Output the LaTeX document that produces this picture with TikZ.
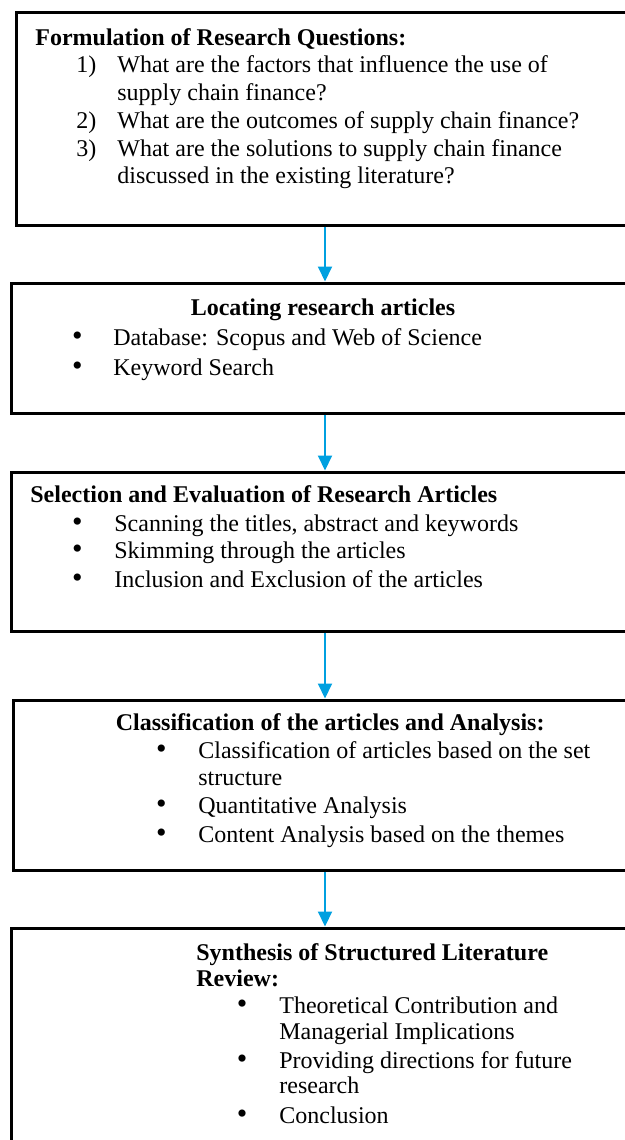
\documentclass[tikz,border=0pt]{standalone}
\usepackage{fontspec}
\setmainfont{Liberation Serif}
\usetikzlibrary{arrows.meta}

\definecolor{arrowblue}{RGB}{0,160,224}

\tikzset{
  stage/.style={draw, line width=1.5pt, inner sep=0pt},
  txt/.style={anchor=base west, inner sep=0pt, font=\fontsize{12}{14}\selectfont},
  dot/.style={anchor=base, inner sep=0pt, font=\fontsize{15}{16}\selectfont},
  flow/.style={draw=arrowblue, line width=1pt, -{Triangle[width=7pt,length=7.5pt]}}
}

\begin{document}
\begin{tikzpicture}[x=0.5pt, y=-0.5pt]
	\useasboundingbox (0,0) rectangle (625,1140);
	\clip (0,0) rectangle (625,1140);

	% the five stages (they run past the right and bottom edges)
	\node[stage, minimum width=309pt, minimum height=106.5pt] (rq) at (325,118.5) {};
	\node[stage, minimum width=314pt, minimum height=65pt] (loc) at (325,348) {};
	\node[stage, minimum width=314pt, minimum height=79.5pt] (sel) at (325,551.5) {};
	\node[stage, minimum width=312pt, minimum height=85pt] (cls) at (325,785) {};
	\node[stage, minimum width=314pt, minimum height=116pt] (syn) at (325,1044) {};

	% research questions
	\node[txt] (rqhead) at (35,45) {\bfseries Formulation of Research Questions:};
	\node[txt] (rqn1) at (76,72.7) {1)};
	\node[txt] (rq1) at (117,72.7) {What are the factors that influence the use of};
	\node[txt] (rq1b) at (117,100) {supply chain finance?};
	\node[txt] (rqn2) at (76,128) {2)};
	\node[txt] (rq2) at (117,128) {What are the outcomes of supply chain finance?};
	\node[txt] (rqn3) at (76,156) {3)};
	\node[txt] (rq3) at (117,156) {What are the solutions to supply chain finance};
	\node[txt] (rq3b) at (117,183) {discussed in the existing literature?};

	% locating articles
	\node[txt, anchor=base] (lochead) at (323,315) {\bfseries Locating research articles};
	\node[dot] (locd1) at (77.5,345) {•};
	\node[txt] (loc1) at (113,345) {Database: Scopus and Web of Science};
	\node[dot] (locd2) at (77.5,375) {•};
	\node[txt] (loc2) at (113,375) {Keyword Search};

	% selection and evaluation
	\node[txt] (selhead) at (30,502) {\bfseries Selection and Evaluation of Research Articles};
	\node[dot] (seld1) at (77.5,531) {•};
	\node[txt] (sel1) at (114,531) {Scanning the titles, abstract and keywords};
	\node[dot] (seld2) at (77.5,558) {•};
	\node[txt] (sel2) at (114,558) {Skimming through the articles};
	\node[dot] (seld3) at (77.5,587) {•};
	\node[txt] (sel3) at (114,587) {Inclusion and Exclusion of the articles};

	% classification and analysis
	\node[txt] (clshead) at (115.5,730) {\bfseries Classification of the articles and Analysis:};
	\node[dot] (clsd1) at (161.5,758) {•};
	\node[txt] (cls1) at (198,758) {Classification of articles based on the set};
	\node[txt] (cls1b) at (198,785) {structure};
	\node[dot] (clsd2) at (161.5,813) {•};
	\node[txt] (cls2) at (198,813) {Quantitative Analysis};
	\node[dot] (clsd3) at (161.5,842) {•};
	\node[txt] (cls3) at (198,842) {Content Analysis based on the themes};

	% synthesis
	\node[txt] (synhead) at (196,960) {\bfseries Synthesis of Structured Literature};
	\node[txt] (synheadb) at (196,986) {\bfseries Review:};
	\node[dot] (synd1) at (242,1013) {•};
	\node[txt] (syn1) at (279,1013) {Theoretical Contribution and};
	\node[txt] (syn1b) at (279,1039) {Managerial Implications};
	\node[dot] (synd2) at (242,1068) {•};
	\node[txt] (syn2) at (279,1068) {Providing directions for future};
	\node[txt] (syn2b) at (279,1093) {research};
	\node[dot] (synd3) at (242,1123) {•};
	\node[txt] (syn3) at (279,1123) {Conclusion};

	% flow between stages
	\draw[flow] (rq.south) -- (loc.north);
	\draw[flow] (loc.south) -- (sel.north);
	\draw[flow] (sel.south) -- (cls.north);
	\draw[flow] (cls.south) -- (syn.north);
\end{tikzpicture}
\end{document}
